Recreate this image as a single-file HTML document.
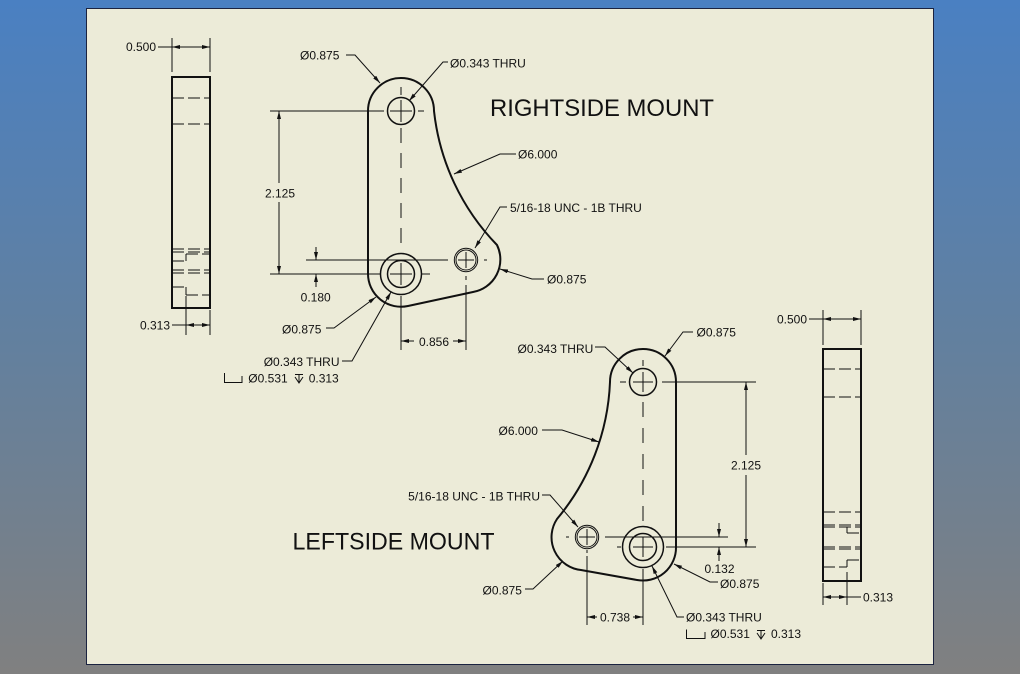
<!DOCTYPE html>
<html><head><meta charset="utf-8"><style>
html,body{margin:0;padding:0;width:1020px;height:674px;overflow:hidden}
svg{display:block}
text{font-family:"Liberation Sans",Arial,sans-serif;font-size:12px;fill:#111}
.big{font-size:24px}
</style></head><body>
<svg width="1020" height="674" viewBox="0 0 1020 674" xmlns="http://www.w3.org/2000/svg">
<defs>
<linearGradient id="bg" x1="0" y1="0" x2="0" y2="1">
<stop offset="0" stop-color="#4A80C2"/>
<stop offset="0.5" stop-color="#62809F"/>
<stop offset="1" stop-color="#808080"/>
</linearGradient>
<marker id="ar" viewBox="0 0 8 4" refX="8" refY="2" markerWidth="8" markerHeight="4" markerUnits="userSpaceOnUse" orient="auto"><path d="M0,0L8,2L0,4z" fill="#111"/></marker>
</defs>
<rect width="1020" height="674" fill="url(#bg)"/>
<rect x="86.5" y="8.5" width="847" height="656" fill="#ECEBD8" stroke="#1B2340"/>

<!-- ============ TOP SIDE VIEW ============ -->
<rect x="172" y="77" width="38" height="231" fill="none" stroke="#111" stroke-width="2"/>
<g stroke="#111" stroke-width="1" fill="none" stroke-dasharray="12 4">
<path d="M172,98H210M172,124H210M172,249H210M172,252H210M172,270H210M172,273H210"/>
<path d="M172,261H186M186,254H210M172,287H186M186,295H210"/>
</g>
<g stroke="#111" stroke-width="1" fill="none">
<path d="M186,254V261M186,287V295"/>
<path d="M172,38V72M210,38V72M158,47H210"/>
<line x1="180" y1="47" x2="172" y2="47" marker-end="url(#ar)"/>
<line x1="202" y1="47" x2="210" y2="47" marker-end="url(#ar)"/>
<path d="M186,296V335M210,310V335M172,325H210"/>
<line x1="194" y1="325" x2="186" y2="325" marker-end="url(#ar)"/>
<line x1="202" y1="325" x2="210" y2="325" marker-end="url(#ar)"/>
</g>
<text x="156" y="51" text-anchor="end">0.500</text>
<text x="170" y="329.5" text-anchor="end">0.313</text>

<!-- ============ RIGHTSIDE MOUNT PLATE ============ -->
<path d="M368,111 A33,33 0 0 1 434,111 A228,228 0 0 0 497,245 A33,33 0 0 1 473,292 L408,306 A33,33 0 0 1 368,274 Z" fill="none" stroke="#111" stroke-width="2"/>
<g stroke="#111" fill="none" stroke-width="1.5">
<circle cx="401" cy="111" r="13.5"/>
<circle cx="401" cy="274" r="13.5"/>
<circle cx="401" cy="274" r="20.5"/>
</g>
<g stroke="#111" fill="none" stroke-width="1">
<circle cx="466" cy="260" r="11.7"/>
<circle cx="466" cy="260" r="10"/>
<path d="M390,111H412M401,100V122M418,111H424M401,87V95"/>
<path d="M390,274H412M401,263V285M422,274H430"/>
<path d="M458,260H474M466,252V268M484,260H487M466,276V280"/>
<path d="M401,128V252" stroke-dasharray="15 10"/>
<path d="M270,111H384M270,274H380M306,260H448M401,296V350M466,285V350"/>
<line x1="279" y1="183" x2="279" y2="111" marker-end="url(#ar)"/>
<line x1="279" y1="202" x2="279" y2="274" marker-end="url(#ar)"/>
<line x1="316" y1="247" x2="316" y2="260" marker-end="url(#ar)"/>
<line x1="316" y1="287" x2="316" y2="274" marker-end="url(#ar)"/>
<line x1="414" y1="341" x2="401" y2="341" marker-end="url(#ar)"/>
<line x1="453" y1="341" x2="466" y2="341" marker-end="url(#ar)"/>
<polyline points="346,55 355,55 380,83" marker-end="url(#ar)"/>
<polyline points="448,62 443,62 409,101" marker-end="url(#ar)"/>
<polyline points="516,154 500,154 454,174" marker-end="url(#ar)"/>
<polyline points="507,207 500,207 475,248" marker-end="url(#ar)"/>
<polyline points="544,279 532,279 500,269" marker-end="url(#ar)"/>
<polyline points="326,328 334,328 376,297" marker-end="url(#ar)"/>
<polyline points="342,361 352,361 391,292" marker-end="url(#ar)"/>
<path d="M224.5,373V382.5H242V376"/>
<path d="M295,374.5H303M299,374V383M295,377L299,383L303,377"/>
</g>
<text x="300" y="59.5">Ø0.875</text>
<text x="450" y="67.5">Ø0.343 THRU</text>
<text x="490" y="116" class="big" textLength="224" lengthAdjust="spacingAndGlyphs">RIGHTSIDE MOUNT</text>
<text x="518" y="158.5">Ø6.000</text>
<text x="510" y="212">5/16-18 UNC - 1B THRU</text>
<text x="280" y="197.5" text-anchor="middle">2.125</text>
<text x="547" y="283.5">Ø0.875</text>
<text x="315.7" y="301.5" text-anchor="middle">0.180</text>
<text x="282" y="333.5">Ø0.875</text>
<text x="339.5" y="366" text-anchor="end">Ø0.343 THRU</text>
<text x="248.3" y="382.5">Ø0.531</text>
<text x="308.7" y="382.5">0.313</text>
<text x="434" y="346" text-anchor="middle">0.856</text>

<!-- ============ LEFTSIDE MOUNT PLATE ============ -->
<path d="M676,382 A33,33 0 0 0 610,382 A228,228 0 0 1 557,519 A33,33 0 0 0 581,570 L637,580 A33,33 0 0 0 676,547 Z" fill="none" stroke="#111" stroke-width="2"/>
<g stroke="#111" fill="none" stroke-width="1.5">
<circle cx="643" cy="382" r="13.5"/>
<circle cx="643" cy="547" r="13.5"/>
<circle cx="643" cy="547" r="20.5"/>
</g>
<g stroke="#111" fill="none" stroke-width="1">
<circle cx="587" cy="537" r="11.7"/>
<circle cx="587" cy="537" r="10"/>
<path d="M633,382H653M643,372V392M620,382H626M643,360V366"/>
<path d="M633,547H653M643,537V557M617,547H621"/>
<path d="M579,537H595M587,529V545M566,537H569M587,550V553"/>
<path d="M643,402V525" stroke-dasharray="15 11"/>
<path d="M662,382H756M666,547H756M605,537H728M587,556V625M643,569V625"/>
<line x1="746" y1="455" x2="746" y2="382" marker-end="url(#ar)"/>
<line x1="746" y1="475" x2="746" y2="547" marker-end="url(#ar)"/>
<line x1="719" y1="523" x2="719" y2="537" marker-end="url(#ar)"/>
<line x1="719" y1="561" x2="719" y2="547" marker-end="url(#ar)"/>
<line x1="597" y1="617" x2="587" y2="617" marker-end="url(#ar)"/>
<line x1="633" y1="617" x2="643" y2="617" marker-end="url(#ar)"/>
<polyline points="595,347 605,347 633,373" marker-end="url(#ar)"/>
<polyline points="693,332 683,332 665,356" marker-end="url(#ar)"/>
<polyline points="542,430 562,430 599,442" marker-end="url(#ar)"/>
<polyline points="542,495 550,495 578,527" marker-end="url(#ar)"/>
<polyline points="525,589 533,589 563,561" marker-end="url(#ar)"/>
<polyline points="718,582 710,582 674,564" marker-end="url(#ar)"/>
<polyline points="684,617 677,617 652,566" marker-end="url(#ar)"/>
<path d="M686.5,629.5V638.5H705V632"/>
<path d="M757,630.5H765M761,630V639M757,633L761,639L765,633"/>
</g>
<text x="517.5" y="353">Ø0.343 THRU</text>
<text x="696.5" y="336.5">Ø0.875</text>
<text x="498.5" y="435">Ø6.000</text>
<text x="746" y="469.5" text-anchor="middle">2.125</text>
<text x="540" y="500.5" text-anchor="end">5/16-18 UNC - 1B THRU</text>
<text x="292.5" y="549.3" class="big" textLength="202" lengthAdjust="spacingAndGlyphs">LEFTSIDE MOUNT</text>
<text x="482.5" y="594.5">Ø0.875</text>
<text x="719.5" y="573" text-anchor="middle">0.132</text>
<text x="720" y="588">Ø0.875</text>
<text x="615" y="621.5" text-anchor="middle">0.738</text>
<text x="686" y="621.5">Ø0.343 THRU</text>
<text x="710.5" y="638">Ø0.531</text>
<text x="771" y="638">0.313</text>

<!-- ============ BOTTOM SIDE VIEW ============ -->
<rect x="823" y="349" width="38" height="232" fill="none" stroke="#111" stroke-width="2"/>
<g stroke="#111" stroke-width="1" fill="none" stroke-dasharray="12 4">
<path d="M823,369H861M823,397H861M823,512H861M823,525H861M823,527H861M823,547H861M823,549H861"/>
<path d="M847,533H861M847,560H861M823,567H847"/>
</g>
<g stroke="#111" stroke-width="1" fill="none">
<path d="M847,527V533M847,560V567"/>
<path d="M823,310V345M861,310V345M809,319H861"/>
<line x1="831" y1="319" x2="823" y2="319" marker-end="url(#ar)"/>
<line x1="853" y1="319" x2="861" y2="319" marker-end="url(#ar)"/>
<path d="M823,583V605M847,572V605M823,597H861"/>
<line x1="831" y1="597" x2="823" y2="597" marker-end="url(#ar)"/>
<line x1="839" y1="597" x2="847" y2="597" marker-end="url(#ar)"/>
</g>
<text x="807" y="323.5" text-anchor="end">0.500</text>
<text x="863" y="601.5">0.313</text>
</svg>
</body></html>
